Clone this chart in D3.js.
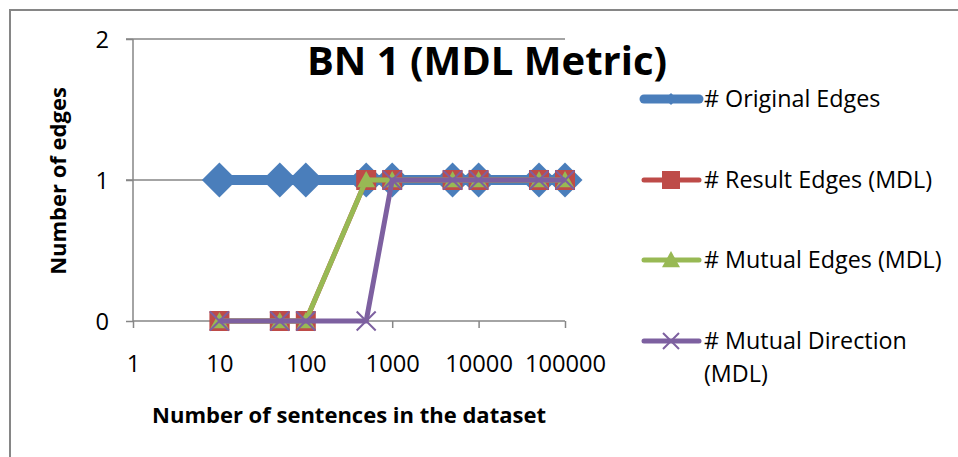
<!DOCTYPE html>
<html>
<head>
<meta charset="utf-8">
<script src="https://cdn.jsdelivr.net/npm/d3@7"></script>
<style>
  html, body { margin: 0; padding: 0; background: #fff; }
  svg { display: block; font-family: "Open Sans", "Noto Sans", sans-serif; }
</style>
</head>
<body>
<svg id="chart" width="958" height="457"></svg>
<script>
// ---- data ----
const sentences = [10, 50, 100, 500, 1000, 5000, 10000, 50000, 100000];
const originalEdges = [1, 1, 1, 1, 1, 1, 1, 1, 1];
const resultEdges = [0, 0, 0, 1, 1, 1, 1, 1, 1];
const mutualEdges = [0, 0, 0, 1, 1, 1, 1, 1, 1];
const mutualDirection = [0, 0, 0, 0, 1, 1, 1, 1, 1];
const seriesNames = ["# Original Edges", "# Result Edges (MDL)", "# Mutual Edges (MDL)", "# Mutual Direction (MDL)"];
const xTicks = [1, 10, 100, 1000, 10000, 100000];
const yTicks = [0, 1, 2];
const chartTitle = "BN 1 (MDL Metric)";
const xTitle = "Number of sentences in the dataset";
const yTitle = "Number of edges";

// ---- layout ----
const svg = d3.select("#chart");
const x = d3.scaleLog().domain([1, 100000]).range([133, 565]);
const y = d3.scaleLinear().domain([0, 2]).range([321, 39]);
const gray = "#868686";

// outer border
svg.append("rect").attr("x", 10).attr("y", 10).attr("width", 970).attr("height", 470)
  .attr("fill", "none").attr("stroke", gray).attr("stroke-width", 2);

// gridlines (y=1,2)
svg.append("g").selectAll("line").data(yTicks.filter(d => d > 0)).join("line")
  .attr("x1", 126).attr("x2", x(100000))
  .attr("y1", d => y(d)).attr("y2", d => y(d))
  .attr("stroke", gray).attr("stroke-width", 1.3);

// y axis
const yAxis = svg.append("g").attr("transform", `translate(${x(1)},0)`)
  .call(d3.axisLeft(y).tickValues(yTicks).tickFormat(d3.format("d")).tickSize(7).tickPadding(17));
// x axis
const xAxis = svg.append("g").attr("transform", `translate(0,${y(0)})`)
  .call(d3.axisBottom(x).tickValues(xTicks).tickFormat(d3.format("d")).tickSize(7).tickPadding(27));
[yAxis, xAxis].forEach(g => {
  g.select(".domain").attr("stroke", gray).attr("stroke-width", 1.5);
  g.selectAll(".tick line").attr("stroke", gray).attr("stroke-width", 1.5);
  g.selectAll(".tick text").attr("fill", "#000").style("font-size", "23.7px")
    .style("font-family", "'Open Sans', sans-serif");
});
xAxis.select(".domain").attr("d", `M${x(1)},0H${x(100000)}`);
yAxis.select(".domain").attr("d", `M0,${y(0)}V${y(2)}`);
yAxis.selectAll(".tick text").attr("dy", "0.36em");

// ---- markers ----
function diamond(s) { return `M0,${-s}L${s},0L0,${s}L${-s},0Z`; }
function square(s) { return `M${-s},${-s}H${s}V${s}H${-s}Z`; }
function triangle(s) { return `M0,${-s}L${s},${s * 0.8}H${-s}Z`; }
function cross(s) { return `M${-s},${-s}L${s},${s}M${s},${-s}L${-s},${s}`; }

const series = [
  { name: seriesNames[0], values: originalEdges, color: "#4A7EBB", width: 10, marker: diamond, size: 17.5, lsize: 6, stroke: false },
  { name: seriesNames[1], values: resultEdges, color: "#BE4B48", width: 5, marker: square, size: 10, lsize: 9, stroke: false },
  { name: seriesNames[2], values: mutualEdges, color: "#98B954", width: 5, marker: triangle, size: 9, lsize: 9, stroke: false },
  { name: seriesNames[3], values: mutualDirection, color: "#7D60A0", width: 5, marker: cross, size: 9.5, lsize: 8, stroke: true }
];

const line = d3.line().x(d => x(d[0])).y(d => y(d[1]));
series.forEach(s => {
  const pts = sentences.map((v, i) => [v, s.values[i]]);
  const g = svg.append("g");
  g.append("path").attr("d", line(pts)).attr("fill", "none")
    .attr("stroke", s.color).attr("stroke-width", s.width).attr("stroke-linejoin", "round");
  g.selectAll("path.m").data(pts).join("path").attr("class", "m")
    .attr("transform", d => `translate(${x(d[0])},${y(d[1])})`)
    .attr("d", s.marker(s.size))
    .attr("fill", s.stroke ? "none" : s.color)
    .attr("stroke", s.stroke ? s.color : "none").attr("stroke-width", 2);
});

// ---- titles ----
svg.append("text").attr("x", 487).attr("y", 75).attr("text-anchor", "middle")
  .style("font-size", "40px").style("font-weight", "bold").text(chartTitle);
svg.append("text").attr("x", 349).attr("y", 423).attr("text-anchor", "middle")
  .style("font-size", "22px").style("font-weight", "bold").text(xTitle);
svg.append("text").attr("transform", "translate(66,181) rotate(-90)").attr("text-anchor", "middle")
  .style("font-size", "22px").style("font-weight", "bold").text(yTitle);

// ---- legend ----
const legendY = [99, 180, 260, 341];
const leg = svg.append("g");
series.forEach((s, i) => {
  const ly = legendY[i];
  leg.append("line").attr("x1", 644).attr("x2", 699).attr("y1", ly).attr("y2", ly)
    .attr("stroke", s.color).attr("stroke-width", s.width === 10 ? 9 : 5).attr("stroke-linecap", "round");
  leg.append("path").attr("transform", `translate(671,${ly})`).attr("d", s.marker(s.lsize))
    .attr("fill", s.stroke ? "none" : s.color)
    .attr("stroke", s.stroke ? s.color : "none").attr("stroke-width", 2);
  const t = leg.append("text").attr("x", 704).attr("y", ly).attr("dy", "0.36em")
    .style("font-size", "23.3px");
  if (i === 3) {
    t.append("tspan").attr("x", 704).text("# Mutual Direction");
    t.append("tspan").attr("x", 704).attr("dy", "1.38em").text("(MDL)");
  } else {
    t.text(s.name);
  }
});
</script>
</body>
</html>
